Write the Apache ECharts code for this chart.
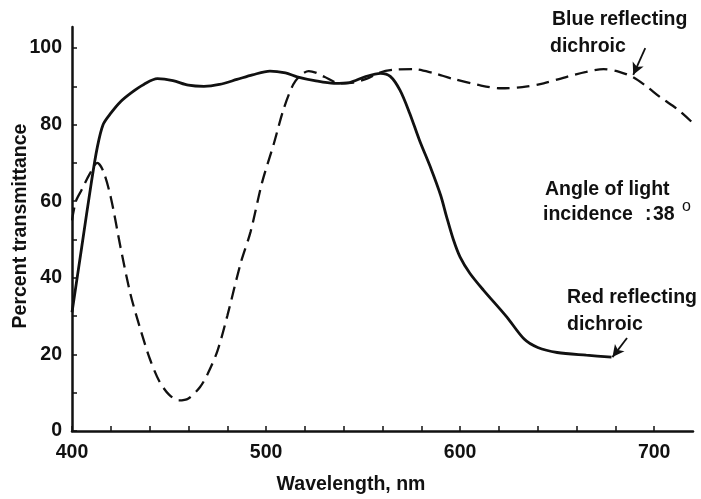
<!DOCTYPE html>
<html style="height: 100%">
<head>
<meta charset="utf-8">
</head>
<body style="height: 100%; margin: 0; background: #fff">
<div id="container" style="width: 701px; height: 499px"></div>
<script type="text/javascript" src="https://cdn.jsdelivr.net/npm/echarts@6/dist/echarts.min.js"></script>
<script type="text/javascript">
// red reflecting dichroic (solid line): [wavelength nm, % transmittance]
var redReflecting = [
  [400, 31], [405, 48], [410, 65], [413, 74], [416, 80], [420, 83], [425, 86],
  [431, 88.5], [437, 90.5], [444, 92], [452, 91.5], [460, 90.3], [468, 90],
  [476, 90.5], [485, 91.8], [493, 93], [502, 94], [510, 93.5], [516, 92.5],
  [525, 91.5], [535, 90.8], [543, 91], [551, 92.5], [559, 93.4], [564, 92.6],
  [569, 89], [574, 83], [579, 76], [585, 68.5], [590, 61.5], [593, 56],
  [596.5, 50], [600, 45.4], [605, 41.2], [612, 36.8], [624, 29.8], [633, 24],
  [640, 21.8], [650, 20.5], [665, 19.8], [678, 19.3]
];
// blue reflecting dichroic (dashed line)
var blueReflecting = [
  [400, 55], [402, 60], [405, 63], [409, 67], [413, 70], [416, 68], [420, 61],
  [425, 48], [430, 36], [435, 27], [440, 19], [445, 13], [450, 9.5], [455, 8],
  [460, 8.5], [466, 11.5], [470, 15], [475, 21], [480, 30], [487, 44],
  [492, 52], [498, 65], [504, 75], [509, 84], [514, 90.5], [518, 93],
  [522, 94], [526, 93.5], [530, 92.5], [538, 90.8], [545, 91], [552, 92],
  [558, 93.5], [565, 94.3], [576, 94.5], [586, 93.5], [596, 92], [610, 90.3],
  [621, 89.5], [632, 89.8], [643, 90.8], [655, 92.5], [665, 93.8], [674, 94.5],
  [682, 93.8], [689, 92.4], [696, 90], [703, 87.2], [712, 84], [720, 80.4]
];
var xTicks = [400, 420, 440, 460, 480, 500, 520, 540, 560, 580, 600, 620, 640, 660, 680, 700];
var xLabels = [400, 500, 600, 700];
var yTicks = [0, 10, 20, 30, 40, 50, 60, 70, 80, 90, 100];
var yLabels = [0, 20, 40, 60, 80, 100];

var FONT = 'Liberation Sans';
var FS = 19.5;
var txt = { fontFamily: FONT, fontSize: FS, fontWeight: 'bold', fill: '#111' };
function label(x, y, s, extra) {
  var style = Object.assign({ text: s, x: x, y: y, verticalAlign: 'middle', align: 'left' }, txt, extra || {});
  return { type: 'text', style: style, z: 10 };
}

var dom = document.getElementById('container');
var myChart = echarts.init(dom, null, { renderer: 'canvas' });

var yName = label(0, 0, 'Percent transmittance', { align: 'center' });
yName.x = 21;
yName.y = 226;
yName.rotation = Math.PI / 2;

var option = {
  backgroundColor: '#fff',
  animation: false,
  grid: { left: 72, right: 8, top: 27, bottom: 68, containLabel: false },
  xAxis: {
    type: 'value',
    min: 400,
    max: 720,
    interval: 20,
    axisLine: { show: true, lineStyle: { color: '#111', width: 2.5 } },
    axisTick: { show: true, inside: true, length: 5, customValues: xTicks, lineStyle: { color: '#111', width: 1.5 } },
    axisLabel: { customValues: xLabels, margin: 12, color: '#111', fontFamily: FONT, fontSize: FS, fontWeight: 'bold' },
    splitLine: { show: false }
  },
  yAxis: {
    type: 'value',
    min: 0,
    max: 105.5,
    axisLine: { show: true, lineStyle: { color: '#111', width: 2.5 } },
    axisTick: { show: true, inside: true, length: 5, customValues: yTicks, lineStyle: { color: '#111', width: 1.5 } },
    axisLabel: { customValues: yLabels, margin: 10, color: '#111', fontFamily: FONT, fontSize: FS, fontWeight: 'bold' },
    splitLine: { show: false }
  },
  series: [{
    name: 'Red reflecting dichroic',
    type: 'line',
    data: redReflecting,
    smooth: 0.3,
    showSymbol: false,
    lineStyle: { color: '#111', width: 2.8 },
    markLine: {
      silent: true,
      symbol: ['none', 'arrow'],
      symbolSize: [9, 12],
      label: { show: false },
      lineStyle: { color: '#111', width: 1.8, type: 'solid' },
      data: [[{ coord: [686, 24.3] }, { coord: [678.5, 19.3] }]]
    }
  }, {
    name: 'Blue reflecting dichroic',
    type: 'line',
    data: blueReflecting,
    smooth: 0.3,
    showSymbol: false,
    lineStyle: { color: '#111', width: 2.3, type: [13, 7] },
    markLine: {
      silent: true,
      symbol: ['none', 'arrow'],
      symbolSize: [9, 12],
      label: { show: false },
      lineStyle: { color: '#111', width: 1.8, type: 'solid' },
      data: [[{ coord: [695.4, 100] }, { coord: [689.2, 93] }]]
    }
  }],
  graphic: [
    yName,
    label(351, 485, 'Wavelength, nm', { align: 'center' }),
    label(552, 20, 'Blue reflecting'),
    label(550, 47, 'dichroic'),
    label(545, 190, 'Angle of light'),
    label(543, 215, 'incidence'),
    label(645, 215, ':'),
    label(653, 215, '38'),
    label(682, 207, 'o', { fontSize: 16, fontWeight: 'normal' }),
    label(567, 298, 'Red reflecting'),
    label(567, 325, 'dichroic')
  ]
};

myChart.setOption(option);
</script>
</body>
</html>
